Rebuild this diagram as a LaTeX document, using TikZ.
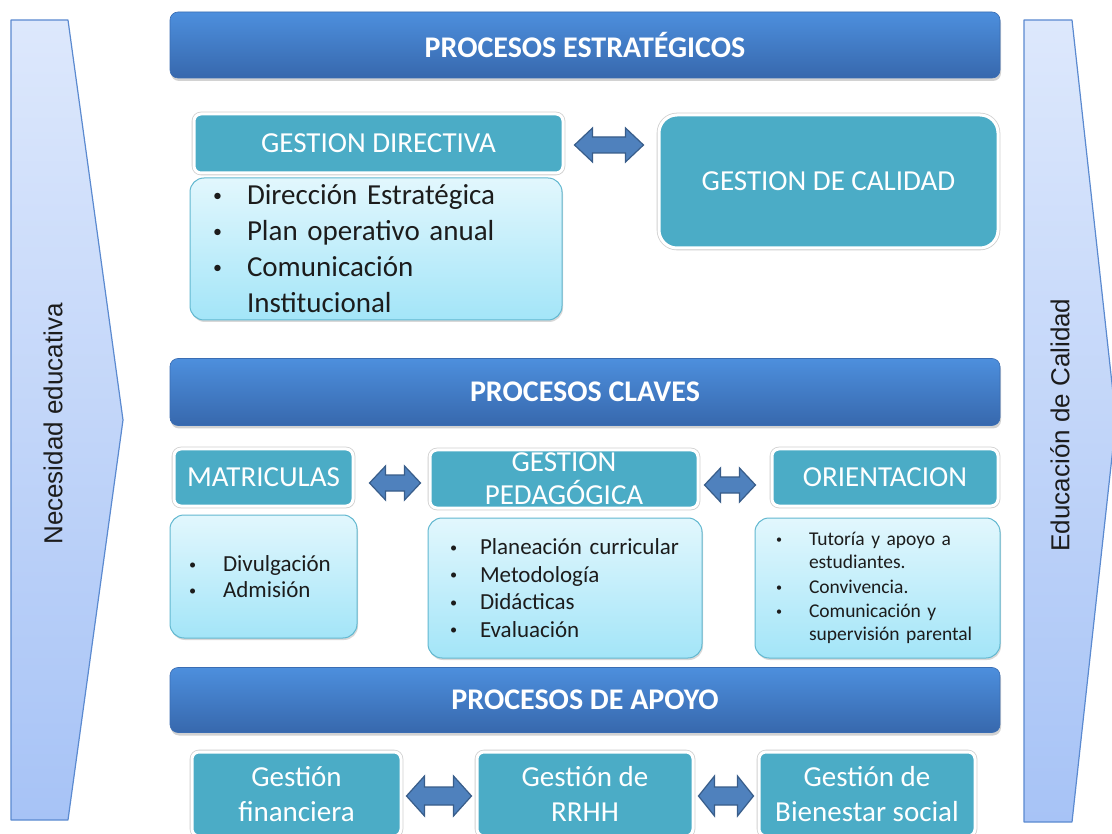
\documentclass[tikz,border=0pt]{standalone}
\usepackage{graphicx}
\usepackage{fontspec}
\setmainfont{Carlito}
\newfontfamily\arialf{Liberation Sans}
\usetikzlibrary{calc,shadows}
\definecolor{tealh}{HTML}{4BACC6}
\definecolor{bTop}{HTML}{4D8FDD}
\definecolor{bBot}{HTML}{3768AD}
\definecolor{bEdge}{HTML}{3A6DB3}
\definecolor{lTop}{HTML}{E2F7FD}
\definecolor{lBot}{HTML}{A3E5F8}
\definecolor{lEdge}{HTML}{62B8D0}
\definecolor{cTop}{HTML}{DDE8FC}
\definecolor{cBot}{HTML}{A7C3F6}
\definecolor{cEdge}{HTML}{5B8AD0}
\definecolor{aFill}{HTML}{4F81BD}
\definecolor{aEdge}{HTML}{385D8A}
\definecolor{txt}{HTML}{1C1C1C}
\newcommand\bul[1]{\makebox[#1][l]{\hspace{1pt}\raisebox{0.1em}{\scalebox{0.62}{•}}}}
\newcommand\blockarr[5]{%
  \draw[barrow] let \p1=#1, \p2=#2 in
    (\x1,\y1) -- (\x1+#3,\y1+#4) -- (\x1+#3,\y1+#5) -- (\x2-#3,\y1+#5)
    -- (\x2-#3,\y1+#4) -- (\x2,\y1) -- (\x2-#3,\y1-#4) -- (\x2-#3,\y1-#5)
    -- (\x1+#3,\y1-#5) -- (\x1+#3,\y1-#4) -- cycle;}
\begin{document}
\begin{tikzpicture}[x=1pt,y=-1pt,
  banner/.style={rounded corners=8pt, top color=bTop, bottom color=bBot, draw=bEdge,
    line width=0.6pt, text=white, font=\fontsize{30}{32}\selectfont\bfseries,
    minimum width=830pt, inner sep=0pt,
    drop shadow={opacity=0.35, shadow xshift=1pt, shadow yshift=-3pt}},
  head/.style={fill=tealh, draw=white, line width=3pt, rounded corners=7pt, text=white,
    font=\fontsize{29}{33}\selectfont, inner sep=0pt, align=center,
    preaction={draw=black!18, line width=4.6pt},
    drop shadow={opacity=0.15, shadow xshift=0.8pt, shadow yshift=-1.6pt}},
  lbox/.style={top color=lTop, bottom color=lBot, draw=lEdge, line width=1pt,
    rounded corners=14pt, text=txt, inner ysep=0pt, align=left,
    drop shadow={opacity=0.3, shadow xshift=1pt, shadow yshift=-2pt}},
  chev/.style={top color=cTop, bottom color=cBot, draw=cEdge, line width=1.2pt, line join=round},
  barrow/.style={fill=aFill, draw=aEdge, line width=1.2pt, line join=miter},
  side/.style={font=\arialf\fontsize{26}{28}\selectfont, text=txt, rotate=90}
]
\useasboundingbox (0,0) rectangle (1112,834);
\clip (0,0) rectangle (1112,834);
\fill[white] (0,0) rectangle (1112,834);

% side chevrons
\draw[chev] (11,20) -- (68,20) -- (123,420) -- (68,820) -- (11,820) -- cycle;
\draw[chev] (1024,20) -- (1072,20) -- (1116,420) -- (1072,822) -- (1024,822) -- cycle;
\node[side] (nl) at (53,424) {Necesidad educativa};
\node[side] (nr) at (1060,425) {Educación de Calidad};

% banners
\node[banner, minimum height=66pt] (b1) at (585,45) {PROCESOS ESTRATÉGICOS};
\node[banner, minimum height=67pt] (b2) at (585,392) {PROCESOS CLAVES};
\node[banner, minimum height=65pt] (b3) at (585,700) {PROCESOS DE APOYO};

% strategic
\node[head, minimum width=369pt, minimum height=59pt] (gd) at (378.5,143.5) {GESTION DIRECTIVA};
\node[lbox, minimum width=372pt, minimum height=142pt, inner xsep=22pt, text width=328pt,
  font=\fontsize{29}{36}\selectfont] (gdl) at (376,249)
  {\bul{35pt}Dirección Estratégica\\ \bul{35pt}Plan operativo anual\\ \bul{35pt}Comunicación\\ \hspace*{35pt}Institucional};
\node[head, rounded corners=18pt, minimum width=339pt, minimum height=133pt] (gc) at (828.5,181.5) {GESTION DE CALIDAD};
\blockarr{($(gd.east)+(10,1.5)$)}{($(gc.west)+(-14,0)$)}{18pt}{17pt}{8pt}

% key processes
\node[head, minimum width=179pt, minimum height=57pt] (mat) at (263.5,477.5) {MATRICULAS};
\node[head, minimum width=268pt, minimum height=58pt] (gp) at (564,479) {GESTION\\PEDAGÓGICA};
\node[head, minimum width=226pt, minimum height=57pt] (ori) at (885,477.5) {ORIENTACION};
\blockarr{($(mat.east)+(15,5.5)$)}{($(gp.west)+(-8,0)$)}{16pt}{17pt}{8pt}
\blockarr{($(gp.east)+(5,6)$)}{($(ori.west)+(-15,0)$)}{16pt}{17pt}{8pt}

\node[lbox, minimum width=187pt, minimum height=123pt, inner xsep=18pt, text width=151pt,
  font=\fontsize{23}{26}\selectfont] (matl) at (263.5,576.5)
  {\bul{35pt}Divulgación\\ \bul{35pt}Admisión};
\node[lbox, minimum width=274pt, minimum height=140pt, inner xsep=21pt, text width=232pt,
  font=\fontsize{23}{27.5}\selectfont] (gpl) at (565,588)
  {\bul{31pt}Planeación curricular\\ \bul{31pt}Metodología\\ \bul{31pt}Didácticas\\ \bul{31pt}Evaluación};
\node[lbox, minimum width=245pt, minimum height=140pt, inner xsep=20pt, text width=205pt,
  font=\fontsize{19.5}{23}\selectfont] (oril) at (877.5,588)
  {\bul{34pt}Tutoría y apoyo a\\ \hspace*{34pt}estudiantes.\\[2pt] \bul{34pt}Convivencia.\\[1pt] \bul{34pt}Comunicación y\\ \hspace*{34pt}supervisión parental};

% support
\node[head, minimum width=209pt, minimum height=84pt, font=\fontsize{29}{35}\selectfont] (gf) at (296.5,794) {Gestión\\financiera};
\node[head, minimum width=216pt, minimum height=84pt, font=\fontsize{29}{35}\selectfont] (rr) at (585,794) {Gestión de\\RRHH};
\node[head, minimum width=216pt, minimum height=84pt, font=\fontsize{29}{35}\selectfont] (bs) at (867,794) {Gestión de\\Bienestar social};
\blockarr{($(gf.east)+(4,2)$)}{($(rr.west)+(-4,0)$)}{18pt}{20pt}{9pt}
\blockarr{($(rr.east)+(4,2)$)}{($(bs.west)+(-4,0)$)}{16pt}{20pt}{9pt}
\end{tikzpicture}
\end{document}
